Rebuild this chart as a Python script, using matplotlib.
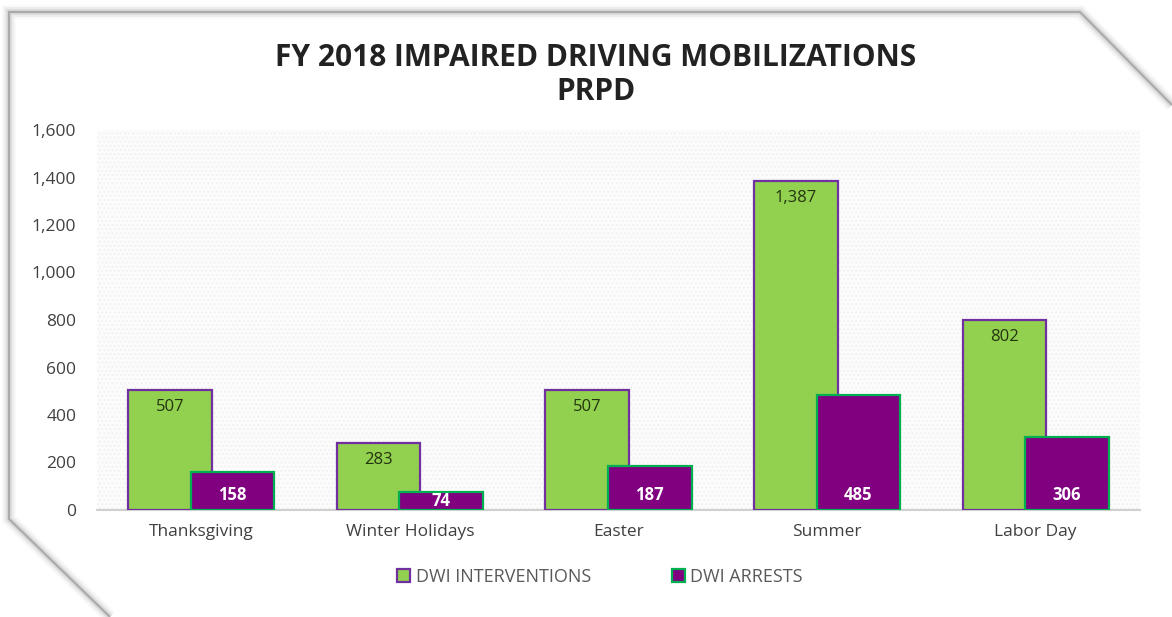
import numpy as np
import matplotlib
matplotlib.use("Agg")
import matplotlib.pyplot as plt
from matplotlib.lines import Line2D

# ── Data ──────────────────────────────────────────────────────────────────────
categories = ["Thanksgiving", "Winter Holidays", "Easter", "Summer", "Labor Day"]
interventions = [507, 283, 507, 1387, 802]
arrests = [158, 74, 187, 485, 306]
series_names = ["DWI INTERVENTIONS", "DWI ARRESTS"]
yticks = [0, 200, 400, 600, 800, 1000, 1200, 1400, 1600]

W, H = 1172, 617
GREEN = "#92D050"
PURPLE = "#800080"
GREEN_EDGE = "#7030A0"
PURPLE_EDGE = "#00B050"
FONT = "Open Sans"

plt.rcParams["font.family"] = [FONT, "DejaVu Sans"]

fig = plt.figure(figsize=(W / 100, H / 100), dpi=100)
fig.patch.set_facecolor("white")

def px(x, y):
    return x / W, 1 - y / H

# ── Decorative frame with soft shadow ─────────────────────────────────────────
frame = [(110, 617), (9, 519), (9, 12), (1080, 12), (1172, 105)]
fx = [px(x, y)[0] for x, y in frame]
fy = [px(x, y)[1] for x, y in frame]
for lw, a in [(10, 0.04), (7, 0.07), (4, 0.12), (1.5, 0.35)]:
    fig.add_artist(Line2D(fx, fy, color="#555555", lw=lw, alpha=a,
                          solid_joinstyle="miter", solid_capstyle="butt"))

# ── Axes ──────────────────────────────────────────────────────────────────────
left, right, top, bottom = 97, 1140, 130, 510
ax = fig.add_axes([left / W, 1 - bottom / H, (right - left) / W, (bottom - top) / H])
ax.set_facecolor("#fcfcfc")
ax.patch.set_hatch("....")
ax.patch.set_edgecolor("#f2f2f2")
ax.patch.set_linewidth(0)

x = np.arange(len(categories))
w = 0.4
off = 0.15
b1 = ax.bar(x - off, interventions, w, color=GREEN, edgecolor=GREEN_EDGE,
            linewidth=1.6, zorder=3, label=series_names[0])
b2 = ax.bar(x + off, arrests, w, color=PURPLE, edgecolor=PURPLE_EDGE,
            linewidth=1.6, zorder=4, label=series_names[1])

# value labels
for xi, v in zip(x, interventions):
    ax.text(xi - off, v - 72, f"{v:,}", ha="center", va="center",
            fontsize=12, color="#24340f", zorder=5)
for xi, v in zip(x, arrests):
    ax.text(xi + off, min(63, v / 2), f"{v:,}", ha="center", va="center",
            fontsize=12, color="white", fontweight="bold", zorder=5)

ax.set_xlim(-0.5, len(categories) - 0.5)
ax.set_ylim(0, 1600)
ax.set_yticks(yticks)
ax.set_yticklabels([f"{t:,}" for t in yticks], fontsize=12.5, color="#404040")
ax.set_xticks(x)
ax.set_xticklabels(categories, fontsize=12.5, color="#404040")
ax.tick_params(axis="both", length=0)
ax.tick_params(axis="y", pad=15)
ax.tick_params(axis="x", pad=10)
for s in ["top", "right", "left"]:
    ax.spines[s].set_visible(False)
ax.spines["bottom"].set_color("#d0d0d0")
ax.spines["bottom"].set_linewidth(1.5)
ax.spines["bottom"].set_zorder(2)

# ── Title ─────────────────────────────────────────────────────────────────────
fig.text(*px(596, 75), "FY 2018 IMPAIRED DRIVING MOBILIZATIONS\nPRPD",
         ha="center", va="center", fontsize=21.5, fontweight="bold",
         color="#222222", linespacing=1.15)

# ── Legend ────────────────────────────────────────────────────────────────────
leg = fig.legend(handles=[b1, b2], labels=series_names, loc="center",
                 bbox_to_anchor=px(600, 577), ncol=2, frameon=False,
                 fontsize=13, handlelength=0.7, handleheight=0.7,
                 handletextpad=0.3, columnspacing=4.5)
for t in leg.get_texts():
    t.set_color("#595959")

fig.savefig("out.png", dpi=100)
